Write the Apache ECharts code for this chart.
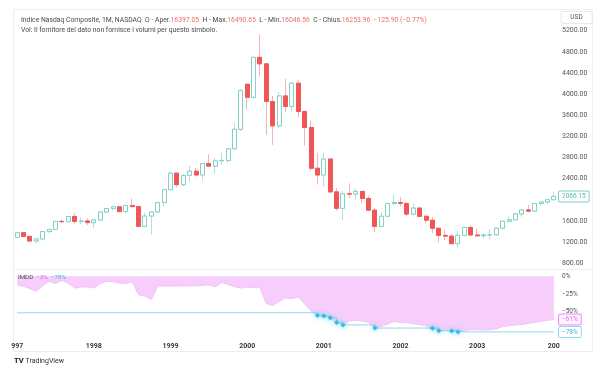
<!DOCTYPE html>
<html><head><meta charset="utf-8">
<script src="https://cdn.jsdelivr.net/npm/echarts@6/dist/echarts.min.js"></script>
<style>html,body{margin:0;padding:0;background:#fff}#c{width:600px;height:382px}</style>
</head><body><div id="c"></div>
<script>
const months = [
'1997-01','1997-02','1997-03','1997-04','1997-05','1997-06','1997-07','1997-08','1997-09','1997-10','1997-11','1997-12',
'1998-01','1998-02','1998-03','1998-04','1998-05','1998-06','1998-07','1998-08','1998-09','1998-10','1998-11','1998-12',
'1999-01','1999-02','1999-03','1999-04','1999-05','1999-06','1999-07','1999-08','1999-09','1999-10','1999-11','1999-12',
'2000-01','2000-02','2000-03','2000-04','2000-05','2000-06','2000-07','2000-08','2000-09','2000-10','2000-11','2000-12',
'2001-01','2001-02','2001-03','2001-04','2001-05','2001-06','2001-07','2001-08','2001-09','2001-10','2001-11','2001-12',
'2002-01','2002-02','2002-03','2002-04','2002-05','2002-06','2002-07','2002-08','2002-09','2002-10','2002-11','2002-12',
'2003-01','2003-02','2003-03','2003-04','2003-05','2003-06','2003-07','2003-08','2003-09','2003-10','2003-11','2003-12',
'2004-01'];
const openV = [
1291.0,1380.0,1309.0,1221.7,1260.8,1400.3,1442.1,1593.8,1587.3,1685.7,1593.6,1600.6,
1570.4,1619.4,1770.5,1835.7,1868.4,1778.9,1894.7,1872.4,1499.3,1693.8,1771.4,1949.5,
2192.7,2505.9,2288.0,2461.4,2542.9,2470.5,2686.1,2638.5,2739.4,2746.2,2966.4,3336.2,
4186.2,3940.4,4696.7,4572.8,3860.7,3400.9,3966.1,3767.0,4206.4,3672.8,3369.6,2597.9,
2470.5,2772.7,2151.8,1840.3,2116.2,2110.5,2160.5,2027.1,1805.4,1498.8,1690.2,1930.6,
1950.4,1934.0,1731.5,1845.4,1688.2,1615.7,1463.2,1328.3,1314.9,1172.1,1329.8,1478.8,
1335.5,1320.9,1337.5,1341.2,1464.3,1595.9,1622.8,1735.0,1810.5,1786.9,1932.2,1960.3,
2003.4];
const closeV = [
1379.9,1309.0,1221.7,1260.8,1400.3,1442.1,1593.8,1587.3,1685.7,1593.6,1600.6,1570.4,
1619.4,1770.5,1835.7,1868.4,1778.9,1894.7,1872.4,1499.3,1693.8,1771.4,1949.5,2192.7,
2505.9,2288.0,2461.4,2542.9,2470.5,2686.1,2638.5,2739.4,2746.2,2966.4,3336.2,4069.3,
3940.4,4696.7,4572.8,3860.7,3400.9,3966.1,3767.0,4206.4,3672.8,3369.6,2597.9,2470.5,
2772.7,2151.8,1840.3,2116.2,2110.5,2160.5,2027.1,1805.4,1498.8,1690.2,1930.6,1950.4,
1934.0,1731.5,1845.4,1688.2,1615.7,1463.2,1328.3,1314.9,1172.1,1329.8,1478.8,1335.5,
1320.9,1337.5,1341.2,1464.3,1595.9,1622.8,1735.0,1810.5,1786.9,1932.2,1960.3,2003.4,
2066.15];
const highV = [
1392,1381,1331,1266,1410,1450,1595,1628,1697,1745,1665,1650,
1628,1772,1845,1880,1874,1895,2028,1887,1760,1775,1950,2200,
2533,2510,2490,2652,2610,2690,2865,2796,2888,2975,3456,4090,
4200,4697,5132,4580,3966,4040,4289,4234,4259,3680,3498,2889,
2893,2780,2224,2168,2314,2225,2165,2079,1843,1771,1943,2098,
2059,1940,1929,1850,1719,1676,1469,1426,1347,1421,1494,1521,
1467,1359,1447,1477,1596,1686,1754,1821,1907,1941,1980,2016,
2153];
const lowV = [
1287,1289,1215,1180,1258,1378,1437,1560,1581,1536,1542,1523,
1465,1615,1750,1800,1765,1746,1860,1484,1490,1343,1755,1870,
2190,2234,2260,2345,2440,2362,2622,2490,2665,2690,2950,3300,
3711,3914,4330,3227,3042,3356,3658,3654,3566,3026,2539,2288,
2251,2117,1794,1619,2033,1994,1936,1796,1387,1480,1685,1904,
1873,1696,1722,1677,1555,1375,1192,1240,1165,1108,1320,1332,
1320,1271,1253,1320,1440,1586,1619,1680,1765,1780,1891,1917,
1990];
const drawdown = [
-12.3,-13.8,-17.5,-21,-13,-7,-10,-5.6,-10,-16.5,-15,-15,
-16.5,-10,-7,-7.5,-9.5,-10,-7.5,-26,-27.8,-32.5,-13.7,-13.7,
-13.7,-13.7,-13.5,-13.5,-13.2,-12.8,-12,-15,-8.5,-11.5,-14.5,-16.5,
-15,-16,-16,-38.7,-41,-35.5,-30.6,-31.5,-29,-38.7,-49,-55.4,
-56.1,-58.8,-65,-68.5,-62.5,-62,-63,-65,-73,-70.5,-67.5,-63.5,
-65,-65.5,-67,-68,-70,-73.2,-76.8,-76,-77.2,-78.4,-76.6,-75.3,
-75.3,-75.6,-75.2,-74,-71,-69.5,-68.6,-67.8,-66.5,-65,-63.5,-62,
-61];
const maxDrawdown = [
-51.4,-51.4,-51.4,-51.4,-51.4,-51.4,-51.4,-51.4,-51.4,-51.4,-51.4,-51.4,
-51.4,-51.4,-51.4,-51.4,-51.4,-51.4,-51.4,-51.4,-51.4,-51.4,-51.4,-51.4,
-51.4,-51.4,-51.4,-51.4,-51.4,-51.4,-51.4,-51.4,-51.4,-51.4,-51.4,-51.4,
-51.4,-51.4,-51.4,-51.4,-51.4,-51.4,-51.4,-51.4,-51.4,-51.4,-51.4,-55.4,
-56.1,-58.8,-65,-68.5,-68.5,-68.5,-68.5,-68.5,-73,-73,-73,-73,
-73,-73,-73,-73,-73,-73.2,-76.8,-76.8,-77.2,-78.4,-78.4,-78.4,
-78.4,-78.4,-78.4,-78.4,-78.4,-78.4,-78.4,-78.4,-78.4,-78.4,-78.4,-78.4,
-78.4];
const yearLabels = ['997','1998','1999','2000','2001','2002','2003','200'];
const priceTicks = [800,1200,1600,2400,2800,3200,3600,4000,4400,4800,5200];
const pctTicks = [0,-25,-50];

const FONT = 'Roboto, "Noto Sans", sans-serif';
const UP = '#82d0c6', UPW = '#b0e1db', DN = '#f05656', DNW = '#f7b2b2';
const PINK = '#f7cdfb', CYAN = '#8ad9ea', MAG = '#e26cf2';

const wickData = months.map((m, i) => [openV[i], closeV[i], lowV[i], highV[i]]);
const bodyData = months.map((m, i) => [openV[i], closeV[i], Math.min(openV[i], closeV[i]), Math.max(openV[i], closeV[i])]);
const mddData = maxDrawdown.map((v, i) => {
  const isNew = i > 0 && v < maxDrawdown[i - 1];
  return isNew ? { value: v, symbol: 'diamond', symbolSize: 5 } : { value: v, symbol: 'none' };
});
const minus = v => (v < 0 ? '\u2212' : '') + Math.abs(v);
const lastClose = closeV[closeV.length - 1];
const lastDD = drawdown[drawdown.length - 1];
const lastMDD = maxDrawdown[maxDrawdown.length - 1];

function tagLine(value, text, color, border, bg) {
  return {
    silent: true, symbol: ['none', 'none'],
    lineStyle: { color: 'rgba(0,0,0,0)', width: 0, type: 'solid' },
    emphasis: { disabled: true },
    label: { show: true, position: 'end', distance: 2, formatter: text, fontSize: 6.5, color: color,
      backgroundColor: bg, borderColor: border, borderWidth: 1, borderRadius: 1, padding: [2, 3, 1, 3], fontFamily: FONT },
    data: [{ yAxis: value }]
  };
}

const chart = echarts.init(document.getElementById('c'), null, { renderer: 'canvas' });
chart.setOption({
  animation: false,
  backgroundColor: '#fff',
  textStyle: { fontFamily: FONT },
  title: {
    left: 16, top: 11,
    text: '{a|Indice Nasdaq Composite, 1M, NASDAQ  O - Aper.}{r|16397.05}{a|  H - Max.}{r|16490.65}{a|  L - Min.}{r|16046.56}{a|  C - Chius.}{r|16253.96  \u2212125.90 (\u22120.77%)}\n{a|Vol: Il fornitore del dato non fornisce i volumi per questo simbolo.}',
    textStyle: {
      fontWeight: 'normal',
      rich: {
        a: { fontSize: 6.8, color: '#4a4a4a', fontFamily: FONT, fontWeight: 'normal', lineHeight: 9.5 },
        r: { fontSize: 6.8, color: '#f06b6b', fontFamily: FONT, fontWeight: 'normal', lineHeight: 9.5 }
      }
    }
  },
  grid: [
    { left: 14, right: 43, top: 9.55, height: 258 },
    { left: 14, right: 43, top: 270, height: 70.1 }
  ],
  xAxis: [
    { type: 'category', data: months, gridIndex: 0, boundaryGap: true, show: false },
    { type: 'category', data: months, gridIndex: 1, boundaryGap: true,
      axisLine: { show: false }, axisTick: { show: false }, splitLine: { show: false },
      axisLabel: {
        interval: (idx) => idx % 12 === 0,
        formatter: (val, idx) => yearLabels[Math.floor(idx / 12)],
        fontSize: 7, fontWeight: 'bold', color: '#3a3a3a', margin: 3, fontFamily: FONT
      } }
  ],
  yAxis: [
    { type: 'value', gridIndex: 0, position: 'right', min: 720, max: 5600,
      axisLine: { show: false }, axisTick: { show: false }, splitLine: { show: false },
      axisLabel: { customValues: priceTicks, formatter: v => v.toFixed(2), fontSize: 7, color: '#555', margin: 5, fontFamily: FONT } },
    { type: 'value', gridIndex: 1, position: 'right', min: -90, max: 9,
      axisLine: { show: false }, axisTick: { show: false }, splitLine: { show: false },
      axisLabel: { customValues: pctTicks, formatter: v => minus(v) + '%', fontSize: 6.5, color: '#555', margin: 5, fontFamily: FONT } }
  ],
  series: [
    { type: 'candlestick', name: 'wick', xAxisIndex: 0, yAxisIndex: 0, data: wickData, barWidth: 4.5, silent: true,
      itemStyle: { color: 'rgba(0,0,0,0)', color0: 'rgba(0,0,0,0)', borderColor: UPW, borderColor0: DNW, borderWidth: 1 } },
    { type: 'candlestick', name: 'body', xAxisIndex: 0, yAxisIndex: 0, data: bodyData, barWidth: 4.5, silent: true,
      itemStyle: { color: '#ffffff', color0: DN, borderColor: UP, borderColor0: DN, borderWidth: 1 },
      markLine: tagLine(lastClose, lastClose.toFixed(2), '#4fbfb1', '#7ccfc4', '#fff') },
    { type: 'line', name: 'dd', xAxisIndex: 1, yAxisIndex: 1, data: drawdown, symbol: 'none',
      lineStyle: { color: '#f3c3f8', width: 1 }, areaStyle: { color: PINK, opacity: 1 },
      markLine: tagLine(lastDD, minus(Math.round(lastDD)) + '%', MAG, '#ea8cf6', '#fdf3fe') },
    { type: 'line', name: 'mdd', xAxisIndex: 1, yAxisIndex: 1, data: mddData, step: 'end', showSymbol: true, showAllSymbol: true,
      lineStyle: { color: CYAN, width: 1 },
      itemStyle: { color: '#2bbfe0', shadowBlur: 5, shadowColor: 'rgba(40,200,240,0.9)' },
      markLine: tagLine(lastMDD, minus(Math.round(lastMDD)) + '%', '#3fb7d6', '#8fdcee', '#fff') }
  ],
  graphic: [
    { type: 'rect', silent: true, z: -1, shape: { x: 13.5, y: 9.5, width: 579, height: 342 }, style: { fill: 'none', stroke: '#eceef2', lineWidth: 1 } },
    { type: 'line', silent: true, z: -1, shape: { x1: 14, y1: 269.5, x2: 592, y2: 269.5 }, style: { stroke: '#eceef2', lineWidth: 1 } },
    { type: 'rect', silent: true, z: 100, shape: { x: 561, y: 11.5, width: 31, height: 12, r: 2 }, style: { fill: '#fff', stroke: '#e6e8ec', lineWidth: 1 } },
    { type: 'text', silent: true, z: 101, style: { text: 'USD', x: 576.5, y: 17.5, align: 'center', verticalAlign: 'middle', fontSize: 6.5, fill: '#555', fontFamily: FONT } },
    { type: 'text', silent: true, z: 100, style: { text: '{k|IMDD}{m|  \u22123%}{c|  \u221278%}', x: 18, y: 277.5, verticalAlign: 'middle', rich: {
      k: { fontSize: 6.2, fill: '#444', fontFamily: FONT }, m: { fontSize: 6.2, fill: '#e05cf0', fontFamily: FONT }, c: { fontSize: 6.2, fill: '#33b5d6', fontFamily: FONT } } } },
    { type: 'text', silent: true, z: 100, style: { text: 'TV', x: 14, y: 361.5, verticalAlign: 'middle', fontSize: 7.5, fontWeight: 'bold', fill: '#131722', fontFamily: FONT } },
    { type: 'text', silent: true, z: 100, style: { text: 'TradingView', x: 25.5, y: 361.5, verticalAlign: 'middle', fontSize: 7, fill: '#333', fontFamily: FONT } }
  ]
});
</script></body></html>
